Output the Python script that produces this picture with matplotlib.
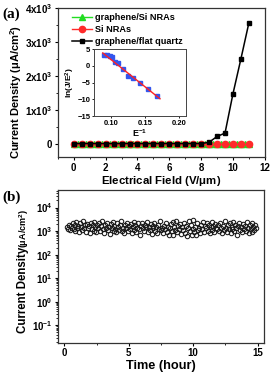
import numpy as np
import matplotlib
matplotlib.use('Agg')
import matplotlib.pyplot as plt
from matplotlib.ticker import MultipleLocator, FixedLocator, LogLocator, NullFormatter

plt.rcParams['font.family'] = ['Liberation Sans', 'DejaVu Sans']
plt.rcParams['font.weight'] = 'bold'
plt.rcParams['axes.labelweight'] = 'bold'
plt.rcParams['mathtext.fontset'] = 'custom'
plt.rcParams['mathtext.rm'] = 'Liberation Sans:bold'
plt.rcParams['mathtext.bf'] = 'Liberation Sans:bold'
plt.rcParams['mathtext.it'] = 'Liberation Sans:bold'
plt.rcParams['mathtext.default'] = 'bf'

# ---------------------------
# Data: (a) field emission J-E curves
# ---------------------------
field_black = [0, 0.5, 1, 1.5, 2, 2.5, 3, 3.5, 4, 4.5, 5, 5.5, 6, 6.5, 7, 7.5, 8, 8.5, 9, 9.5, 10, 10.5, 11]
j_flat_quartz = [0, 0, 0, 0, 0, 0, 0, 0, 0, 0, 0, 0, 0, 0, 0, 0, 0, 40, 210, 310, 1470, 2500, 3560]
field_red = [0, 0.5, 1, 1.5, 2, 2.5, 3, 3.5, 4, 4.5, 5, 5.5, 6, 6.5, 7, 7.5, 8, 8.5, 9, 9.5, 10, 10.5, 11]
j_si_nras = [0, 0, 0, 0, 0, 0, 0, 0, 0, 0, 0, 0, 0, 0, 0, 0, 0, 0, 0, 0, 0, 0, 0]
field_green = [0, 0.25, 0.5, 0.75, 1, 1.25, 1.5, 1.75, 2, 2.25, 2.5, 2.75, 3, 3.25, 3.5, 3.75, 4, 4.25,
               4.5, 4.75, 5, 5.25, 5.5, 5.75, 6, 6.25, 6.5, 6.75, 7, 7.25, 7.5, 7.75, 8, 8.25, 8.5,
               8.75, 9, 9.25, 9.5, 9.75, 10, 10.25, 10.5, 10.75, 11]
j_graphene_si = [0] * len(field_green)

# inset: F-N plot
inv_e = [0.090, 0.094, 0.098, 0.101, 0.106, 0.111, 0.118, 0.125, 0.133, 0.143, 0.155, 0.168]
ln_j_e2 = [3.4, 3.2, 3.0, 2.6, 1.2, 0.8, -0.8, -3.1, -3.6, -5.1, -7.0, -9.1]
fit_x = [0.088, 0.172]
fit_y = [3.9, -9.8]

# ---------------------------
# Data: (b) stability over time
# ---------------------------
j_time = [
    1500, 1250, 1800, 1100, 1650, 1400, 2100, 1200, 1900, 1000, 2400, 1350, 1700, 900, 2200, 1500, 1150, 2600, 1300, 1800,
    950, 2000, 1400, 1650, 800, 2300, 1200, 1750, 1050, 2500, 1450, 900, 1900, 1300, 2200, 1000, 1600, 2700, 1250, 850,
    1800, 1400, 2100, 1100, 1550, 750, 2000, 1300, 2400, 1000, 1700, 1250, 900, 2200, 1500, 1150, 1850, 2600, 1050, 1400,
    800, 1900, 1300, 2300, 1000, 1650, 1200, 2000, 850, 1500, 2500, 1100, 1750, 950, 1350, 2100, 1200, 700, 1600, 2200,
    1300, 1000, 1800, 1450, 2400, 900, 1550, 1150, 2000, 750, 1650, 1300, 2200, 1000, 1500, 850, 1900, 1200, 2600, 1100,
    1400, 800, 1700, 1250, 2100, 950, 1550, 700, 1300, 1950, 1050, 2400, 650, 1450, 1100, 2800, 900, 1600, 1200, 2000,
    750, 1500, 1150, 2300, 850, 1700, 600, 1350, 2600, 1000, 1800, 700, 1250, 3000, 900, 1500, 650, 2100, 1100, 1400,
    800, 1900, 1200, 2400, 950, 1600, 1300, 2200, 1000, 1750, 850, 1450, 2500, 1100, 1650, 900, 2000, 1350, 1200, 1800,
    1000, 2300, 1400, 850, 1700, 1150, 2600, 1300, 950, 1900, 1250, 2100, 800, 1550, 1200, 2400, 1000, 1750, 1350, 700,
    1600, 2200, 1100, 1450, 900, 2000, 1250, 1700, 1050, 2500, 1300, 800, 1850, 1200, 2100, 950, 1500, 1150, 1800, 1350,
]
t_start, t_end = 0.2, 14.9
time_h = np.linspace(t_start, t_end, len(j_time))


def bold_ticks(ax):
    for lbl in ax.get_xticklabels() + ax.get_yticklabels():
        lbl.set_fontweight('bold')


fig = plt.figure(figsize=(2.73, 3.76), dpi=100)

# ---------------------------
# (a)
# ---------------------------
ax1 = fig.add_axes([0.212, 0.582, 0.758, 0.397])
ax1.plot(field_green, j_graphene_si, '-^', color='#22dd22', ms=4.5, lw=1, label='graphene/Si NRAs')
ax1.plot(field_red, j_si_nras, '-o', color='#ff2a2a', ms=4.5, lw=1, label='Si NRAs')
ax1.plot(field_black, j_flat_quartz, '-s', color='black', ms=2.2, lw=1.1, label='graphene/flat quartz')
ax1.set_xlim(-1, 12)
ax1.set_ylim(-400, 4000)
ax1.xaxis.set_major_locator(MultipleLocator(2))
ax1.xaxis.set_minor_locator(MultipleLocator(1))
ax1.yaxis.set_minor_locator(MultipleLocator(500))
ax1.set_yticks([0, 1000, 2000, 3000, 4000])
ax1.set_yticklabels(['0', r'1x10$^3$', r'2x10$^3$', r'3x10$^3$', r'4x10$^3$'])
ax1.tick_params(labelsize=7, length=2.5, width=0.8, pad=1.5)
ax1.tick_params(which='minor', length=1.5, width=0.6)
bold_ticks(ax1)
ax1.set_xlabel(r'Electrical Field (V/$\mu$m)', fontsize=8.2, fontweight='bold', labelpad=1)
ax1.set_ylabel(r'Current Density ($\mu$A/cm$^2$)', fontsize=8, fontweight='bold')
ax1.yaxis.set_label_coords(-0.163, 0.44)
for s in ax1.spines.values():
    s.set_linewidth(0.9)
    s.set_color('#333333')
ax1.legend(loc='upper left', bbox_to_anchor=(0.04, 1.0), frameon=False, handlelength=2.2,
           handletextpad=0.3, labelspacing=0.3, borderaxespad=0.2,
           prop={'weight': 'bold', 'size': 6.6})

# inset
axi = fig.add_axes([0.344, 0.691, 0.337, 0.178])
axi.plot(inv_e, ln_j_e2, 's', color='#3355ee', ms=3.3)
axi.plot(fit_x, fit_y, '-', color='#ff2222', lw=1)
axi.set_xlim(0.075, 0.21)
axi.set_ylim(-15, 5)
axi.set_xticks([0.10, 0.15, 0.20])
axi.set_xticklabels(['0.10', '0.15', '0.20'])
axi.set_yticks([5, 0, -5, -10, -15])
axi.tick_params(labelsize=5.5, length=1.5, width=0.6, pad=1)
bold_ticks(axi)
axi.set_xlabel(r'E$^{-1}$', fontsize=6.5, fontweight='bold', labelpad=0.5)
axi.set_ylabel(r'ln(J/E$^2$)', fontsize=6, fontweight='bold', labelpad=0.5)
for s in axi.spines.values():
    s.set_linewidth(0.7)
    s.set_color('#444444')

fig.text(0.008, 0.962, '(a)', fontsize=11, fontweight='bold', family='Liberation Serif', va='center')

# ---------------------------
# (b)
# ---------------------------
ax2 = fig.add_axes([0.212, 0.088, 0.755, 0.407])
ax2.plot(time_h, j_time, 'o', mfc='none', mec='#1a1a1a', ms=3.2, mew=0.75)
ax2.set_yscale('log')
ax2.set_xlim(-0.5, 15.5)
ax2.set_ylim(10 ** -1.75, 10 ** 4.75)
ax2.xaxis.set_major_locator(MultipleLocator(5))
ax2.xaxis.set_minor_locator(MultipleLocator(2.5))
ax2.yaxis.set_major_locator(FixedLocator([0.1, 1, 10, 100, 1000, 10000]))
ax2.set_yticklabels([r'10$^{-1}$', r'10$^0$', r'10$^1$', r'10$^2$', r'10$^3$', r'10$^4$'])
ax2.yaxis.set_minor_locator(LogLocator(base=10, subs=np.arange(2, 10), numticks=20))
ax2.yaxis.set_minor_formatter(NullFormatter())
ax2.tick_params(labelsize=7, length=2.5, width=0.8, pad=1.5)
ax2.tick_params(which='minor', length=1.5, width=0.6)
bold_ticks(ax2)
ax2.set_xlabel('Time (hour)', fontsize=9.2, fontweight='bold', labelpad=1)
# y label: main words large, units smaller
ax2.text(-0.168, 0.346, 'Current Density', transform=ax2.transAxes, rotation=90,
         ha='center', va='center', fontsize=8.3, fontweight='bold')
ax2.text(-0.165, 0.75, r'($\mu$A/cm$^2$)', transform=ax2.transAxes, rotation=90,
         ha='center', va='center', fontsize=6.5, fontweight='bold')
for s in ax2.spines.values():
    s.set_linewidth(0.9)
    s.set_color('#333333')

fig.text(0.008, 0.476, '(b)', fontsize=11, fontweight='bold', family='Liberation Serif', va='center')

fig.savefig('out.png', dpi=100)
